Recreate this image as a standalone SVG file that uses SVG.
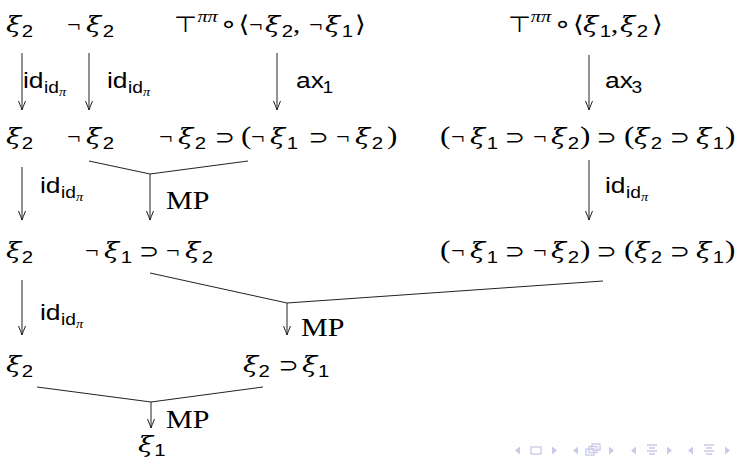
<svg xmlns="http://www.w3.org/2000/svg" width="741" height="460" viewBox="0 0 741 460">
<style>
text{fill:#000}
.f{font-family:"Liberation Serif","DejaVu Serif",serif;font-size:24px}
.x{font-family:"DejaVu Serif","Liberation Serif",serif;font-style:italic;font-size:23px}
.d{font-family:"Liberation Sans","DejaVu Sans",sans-serif;font-size:17px}
.n{font-family:"Liberation Serif","DejaVu Serif",serif;font-size:20px}
.p{font-family:"Liberation Serif","DejaVu Serif",serif;font-size:26px}
.o{font-family:"DejaVu Sans",sans-serif;font-size:20px}
.t{font-family:"DejaVu Sans",sans-serif;font-size:22px}
.r{font-family:"DejaVu Sans",sans-serif;font-size:24px}
.a{font-family:"DejaVu Sans",sans-serif;font-size:23px}
.sp{font-family:"Liberation Serif","DejaVu Serif",serif;font-style:italic;font-size:17px}
.l{font-family:"Liberation Sans","DejaVu Sans",sans-serif;font-size:22px}
.ls{font-family:"Liberation Sans","DejaVu Sans",sans-serif;font-size:16px}
.lp{font-family:"Liberation Serif","DejaVu Serif",serif;font-style:italic;font-size:12px}
.mp{font-family:"Liberation Serif","DejaVu Serif",serif;font-size:25px}
.c line,.c polyline{stroke:#222;stroke-width:1;fill:none}
.nav{fill:#c9c9ea;stroke:none}
.navs{fill:none;stroke:#c9c9ea;stroke-width:1.3}
</style>
<defs>
<marker id="ah" viewBox="-10 -5 11 10" refX="0" refY="0" markerWidth="11" markerHeight="10" markerUnits="userSpaceOnUse" orient="auto">
<path d="M-9,-3.5 Q-3,-1 0,0 Q-3,1 -9,3.5" fill="none" stroke="#222" stroke-width="1"/>
</marker>
</defs>

<g id="A1" transform="translate(6,32) scale(1.2,1)"><text><tspan class="x" x="0" y="0">ξ</tspan><tspan class="d" x="13.2" y="5">2</tspan></text></g>
<g id="B1" transform="translate(67,32) scale(1.2,1)"><text><tspan class="n" x="0" y="0">¬</tspan><tspan class="x" x="15.8" y="0">ξ</tspan><tspan class="d" x="29.8" y="5">2</tspan></text></g>
<g id="C1" transform="translate(174,32) scale(1.2,1)"><text><tspan class="t" x="0" y="0">⊤</tspan><tspan class="sp" x="19.5" y="-10">ππ</tspan><tspan class="r" x="38" y="0">∘</tspan><tspan class="a" x="53.8" y="0">⟨</tspan><tspan class="n" x="62.5" y="0">¬</tspan><tspan class="x" x="75.8" y="0">ξ</tspan><tspan class="d" x="89.8" y="5">2</tspan><tspan class="f" x="99.2" y="0">,</tspan><tspan class="n" x="112.5" y="0">¬</tspan><tspan class="x" x="125.8" y="0">ξ</tspan><tspan class="d" x="139.8" y="5">1</tspan><tspan class="a" x="150.8" y="0">⟩</tspan></text></g>
<g id="D1" transform="translate(508,32) scale(1.2,1)"><text><tspan class="t" x="0" y="0">⊤</tspan><tspan class="sp" x="19" y="-10">ππ</tspan><tspan class="r" x="38" y="0">∘</tspan><tspan class="a" x="54.2" y="0">⟨</tspan><tspan class="x" x="62.5" y="0">ξ</tspan><tspan class="d" x="76.5" y="5">1</tspan><tspan class="f" x="85.8" y="0">,</tspan><tspan class="x" x="93.3" y="0">ξ</tspan><tspan class="d" x="107.3" y="5">2</tspan><tspan class="a" x="120" y="0">⟩</tspan></text></g>

<g id="A2" transform="translate(6,144) scale(1.2,1)"><text><tspan class="x" x="0" y="0">ξ</tspan><tspan class="d" x="13.2" y="5">2</tspan></text></g>
<g id="B2" transform="translate(67,144) scale(1.2,1)"><text><tspan class="n" x="0" y="0">¬</tspan><tspan class="x" x="15.8" y="0">ξ</tspan><tspan class="d" x="29.8" y="5">2</tspan></text></g>
<g id="C2" transform="translate(159,144) scale(1.2,1)"><text><tspan class="n" x="0" y="0">¬</tspan><tspan class="x" x="15.8" y="0">ξ</tspan><tspan class="d" x="29.8" y="5">2</tspan><tspan class="o" x="46.5" y="0">⊃</tspan><tspan class="p" x="68.3" y="0">(</tspan><tspan class="n" x="76.7" y="0">¬</tspan><tspan class="x" x="92.5" y="0">ξ</tspan><tspan class="d" x="106.5" y="5">1</tspan><tspan class="o" x="124.5" y="0">⊃</tspan><tspan class="n" x="147.5" y="0">¬</tspan><tspan class="x" x="163.3" y="0">ξ</tspan><tspan class="d" x="177.3" y="5">2</tspan><tspan class="p" x="190" y="0">)</tspan></text></g>
<g id="D2" transform="translate(440,144) scale(1.2,1)"><text><tspan class="p" x="0" y="0">(</tspan><tspan class="n" x="9.2" y="0">¬</tspan><tspan class="x" x="25" y="0">ξ</tspan><tspan class="d" x="39" y="5">1</tspan><tspan class="o" x="54" y="0">⊃</tspan><tspan class="n" x="77.5" y="0">¬</tspan><tspan class="x" x="92.5" y="0">ξ</tspan><tspan class="d" x="106.5" y="5">2</tspan><tspan class="p" x="116.7" y="0">)</tspan><tspan class="o" x="130.5" y="0">⊃</tspan><tspan class="p" x="153.3" y="0">(</tspan><tspan class="x" x="161.7" y="0">ξ</tspan><tspan class="d" x="175.7" y="5">2</tspan><tspan class="o" x="191.5" y="0">⊃</tspan><tspan class="x" x="213.3" y="0">ξ</tspan><tspan class="d" x="227.3" y="5">1</tspan><tspan class="p" x="237.5" y="0">)</tspan></text></g>

<g id="A3" transform="translate(6,258) scale(1.2,1)"><text><tspan class="x" x="0" y="0">ξ</tspan><tspan class="d" x="13.2" y="5">2</tspan></text></g>
<g id="B3" transform="translate(85,258) scale(1.2,1)"><text><tspan class="n" x="0" y="0">¬</tspan><tspan class="x" x="15.8" y="0">ξ</tspan><tspan class="d" x="29.8" y="5">1</tspan><tspan class="o" x="45" y="0">⊃</tspan><tspan class="n" x="67.5" y="0">¬</tspan><tspan class="x" x="83.3" y="0">ξ</tspan><tspan class="d" x="97.3" y="5">2</tspan></text></g>
<g id="D3" transform="translate(440,258) scale(1.2,1)"><text><tspan class="p" x="0" y="0">(</tspan><tspan class="n" x="9.2" y="0">¬</tspan><tspan class="x" x="25" y="0">ξ</tspan><tspan class="d" x="39" y="5">1</tspan><tspan class="o" x="54" y="0">⊃</tspan><tspan class="n" x="77.5" y="0">¬</tspan><tspan class="x" x="92.5" y="0">ξ</tspan><tspan class="d" x="106.5" y="5">2</tspan><tspan class="p" x="116.7" y="0">)</tspan><tspan class="o" x="130.5" y="0">⊃</tspan><tspan class="p" x="153.3" y="0">(</tspan><tspan class="x" x="161.7" y="0">ξ</tspan><tspan class="d" x="175.7" y="5">2</tspan><tspan class="o" x="191.5" y="0">⊃</tspan><tspan class="x" x="213.3" y="0">ξ</tspan><tspan class="d" x="227.3" y="5">1</tspan><tspan class="p" x="237.5" y="0">)</tspan></text></g>

<g id="A4" transform="translate(6,372) scale(1.2,1)"><text><tspan class="x" x="0" y="0">ξ</tspan><tspan class="d" x="13.2" y="5">2</tspan></text></g>
<g id="B4" transform="translate(243,372) scale(1.2,1)"><text><tspan class="x" x="0" y="0">ξ</tspan><tspan class="d" x="13" y="5">2</tspan><tspan class="o" x="29.5" y="0">⊃</tspan><tspan class="x" x="49.2" y="0">ξ</tspan><tspan class="d" x="62.5" y="5">1</tspan></text></g>
<g id="E" transform="translate(138,452) scale(1.2,1)"><text><tspan class="x" x="0" y="0">ξ</tspan><tspan class="d" x="13.5" y="4">1</tspan></text></g>

<g id="connectors" class="c">
<line x1="22" y1="53" x2="22" y2="110" marker-end="url(#ah)"/>
<line x1="89" y1="53" x2="89" y2="110" marker-end="url(#ah)"/>
<line x1="277" y1="53" x2="277" y2="110" marker-end="url(#ah)"/>
<line x1="589" y1="55" x2="589" y2="110" marker-end="url(#ah)"/>
<line x1="22" y1="167" x2="22" y2="220" marker-end="url(#ah)"/>
<polyline points="89,161 150,174 248,161"/>
<line x1="150" y1="174" x2="150" y2="220" marker-end="url(#ah)"/>
<line x1="589" y1="160" x2="589" y2="220" marker-end="url(#ah)"/>
<line x1="22" y1="280" x2="22" y2="335" marker-end="url(#ah)"/>
<polyline points="150,273 287,303 603,281"/>
<line x1="287" y1="303" x2="287" y2="335" marker-end="url(#ah)"/>
<polyline points="37,387 151,402 263,387"/>
<line x1="151" y1="402" x2="151" y2="428" marker-end="url(#ah)"/>
</g>

<g id="labels">
<g transform="translate(23,88) scale(1.2,1)"><text><tspan class="l" x="0" y="0">id</tspan><tspan class="ls" x="17.5" y="5">id</tspan><tspan class="lp" x="30" y="8">π</tspan></text></g>
<g transform="translate(107,88) scale(1.2,1)"><text><tspan class="l" x="0" y="0">id</tspan><tspan class="ls" x="17.5" y="5">id</tspan><tspan class="lp" x="30" y="8">π</tspan></text></g>
<g transform="translate(296,88) scale(1.2,1)"><text><tspan class="l" x="0" y="0">ax</tspan><tspan class="ls" x="22" y="5">1</tspan></text></g>
<g transform="translate(605,88) scale(1.2,1)"><text><tspan class="l" x="0" y="0">ax</tspan><tspan class="ls" x="22" y="5">3</tspan></text></g>
<g transform="translate(40,193) scale(1.2,1)"><text><tspan class="l" x="0" y="0">id</tspan><tspan class="ls" x="17.5" y="5">id</tspan><tspan class="lp" x="30" y="8">π</tspan></text></g>
<g transform="translate(605,193) scale(1.2,1)"><text><tspan class="l" x="0" y="0">id</tspan><tspan class="ls" x="17.5" y="5">id</tspan><tspan class="lp" x="30" y="8">π</tspan></text></g>
<g transform="translate(40,320) scale(1.2,1)"><text><tspan class="l" x="0" y="0">id</tspan><tspan class="ls" x="17.5" y="5">id</tspan><tspan class="lp" x="30" y="8">π</tspan></text></g>
<g transform="translate(166,209) scale(1.2,1)"><text class="mp">MP</text></g>
<g transform="translate(301,336) scale(1.2,1)"><text class="mp">MP</text></g>
<g transform="translate(166,428) scale(1.2,1)"><text class="mp">MP</text></g>
</g>

<g id="nav">
<polygon class="nav" points="520,446.5 515,450.5 520,454.5"/>
<rect class="navs" x="531" y="447" width="10" height="7"/>
<polygon class="nav" points="552,446.5 557,450.5 552,454.5"/>
<polygon class="nav" points="578,446.5 573,450.5 578,454.5"/>
<rect class="navs" x="586" y="449" width="8" height="6"/>
<rect class="navs" x="589" y="446.5" width="8" height="6"/>
<rect class="navs" x="592" y="444" width="8" height="6"/>
<polygon class="nav" points="609,446.5 614,450.5 609,454.5"/>
<polygon class="nav" points="636,446.5 631,450.5 636,454.5"/>
<path class="navs" d="M647,445h10M649,448h6M647,451h10M649,454h6"/>
<polygon class="nav" points="667,446.5 672,450.5 667,454.5"/>
<polygon class="nav" points="693,446.5 688,450.5 693,454.5"/>
<path class="navs" d="M704,445h10M706,448h6M704,451h10M706,454h6"/>
<polygon class="nav" points="725,446.5 730,450.5 725,454.5"/>
</g>
</svg>
